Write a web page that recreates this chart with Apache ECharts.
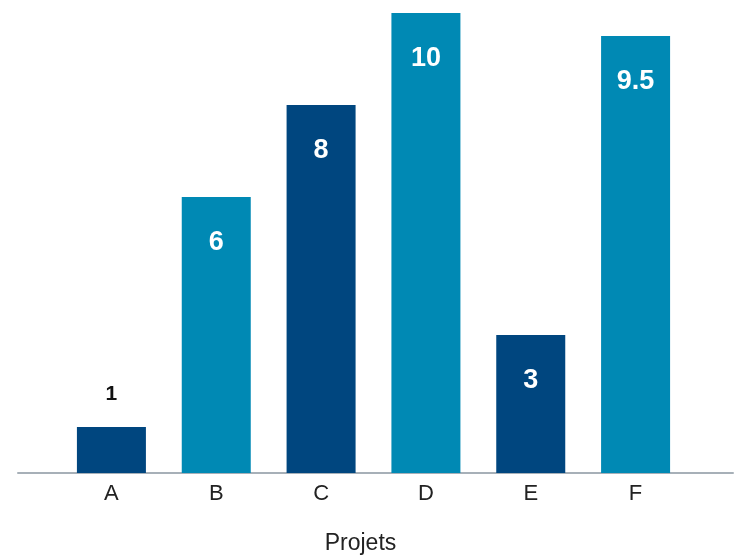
<!DOCTYPE html>
<html>
<head>
<meta charset="utf-8">
<script src="https://cdn.jsdelivr.net/npm/echarts@6/dist/echarts.min.js"></script>
<style>html,body{margin:0;padding:0;background:#fff;}#c{width:734px;height:556px;}</style>
</head>
<body>
<div id="c"></div>
<script>
var categories = ['A', 'B', 'C', 'D', 'E', 'F'];
var values = [1, 6, 8, 10, 3, 9.5];
var axisName = 'Projets';

var DARK = '#00467f';
var LIGHT = '#0089b4';

var chart = echarts.init(document.getElementById('c'), null, {renderer: 'canvas'});
var data = values.map(function (v, i) {
  var isDark = i % 2 === 0;
  var outside = v < 2;
  return {
    value: v,
    itemStyle: {color: isDark ? DARK : LIGHT},
    label: outside ? {
      position: 'top', distance: 22, color: '#111', fontSize: 21
    } : {
      position: 'insideTop', distance: 32, color: '#fff', fontSize: 27
    }
  };
});
chart.setOption({
  animation: false,
  grid: [
    {left: 59, right: 46, top: 13, bottom: 83, outerBoundsMode: 'none', containLabel: false},
    {left: 18, right: 1, top: 13, bottom: 83, outerBoundsMode: 'none', containLabel: false}
  ],
  xAxis: [
    {
      type: 'category', gridIndex: 0, data: categories,
      axisLine: {show: false}, axisTick: {show: false},
      axisLabel: {margin: 10, fontSize: 22, color: '#222', fontFamily: 'Liberation Sans'},
      name: axisName, nameLocation: 'middle', nameGap: 59,
      nameTextStyle: {fontSize: 23, color: '#222', fontFamily: 'Liberation Sans', padding: [0, 26, 0, 0]}
    },
    {
      type: 'value', gridIndex: 1, min: 0, max: 1,
      axisLine: {show: true, onZero: false, lineStyle: {color: '#a7b0b8', width: 2}},
      axisTick: {show: false}, axisLabel: {show: false}, splitLine: {show: false}
    }
  ],
  yAxis: [
    {type: 'value', gridIndex: 0, min: 0, max: 10, show: false, splitLine: {show: false}},
    {type: 'value', gridIndex: 1, min: 0, max: 10, show: false, splitLine: {show: false}}
  ],
  series: [{
    type: 'bar', xAxisIndex: 0, yAxisIndex: 0,
    barWidth: 69,
    data: data,
    label: {show: true, fontWeight: 'bold', fontFamily: 'Liberation Sans'},
    z: 3
  }]
});
</script>
</body>
</html>
